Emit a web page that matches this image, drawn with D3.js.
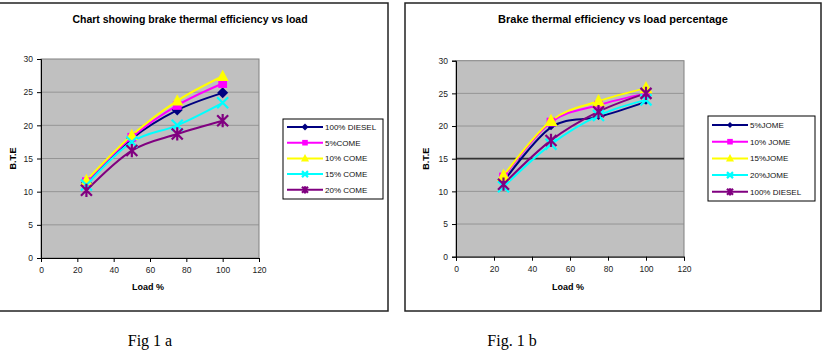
<!DOCTYPE html>
<html>
<head>
<meta charset="utf-8">
<script src="https://cdn.jsdelivr.net/npm/d3@7"></script>
<style>
  body { margin: 0; background: #fff; }
  svg { display: block; }
</style>
</head>
<body>
<div id="chart"></div>
<script>
// shared values
const loads = [25, 50, 75, 100];
const xTicks = [0, 20, 40, 60, 80, 100, 120];
const yTicks = [0, 5, 10, 15, 20, 25, 30];

// Fig 1 a
const namesA = ['100% DIESEL', '5%COME', '10% COME', '15% COME', '20% COME'];
const dieselA = [11.3, 18.0, 22.3, 24.9];
const come5 = [11.5, 18.2, 23.0, 26.3];
const come10 = [11.7, 18.5, 23.7, 27.4];
const come15 = [11.0, 17.5, 20.0, 23.4];
const come20 = [10.2, 16.2, 18.7, 20.7];

// Fig 1 b
const namesB = ['5%JOME', '10% JOME', '15%JOME', '20%JOME', '100% DIESEL'];
const jome5 = [11.5, 19.8, 21.4, 23.7];
const jome10 = [12.2, 20.6, 23.2, 25.0];
const jome15 = [12.4, 20.8, 23.8, 25.8];
const jome20 = [10.7, 17.2, 21.6, 24.0];
const dieselB = [11.1, 17.8, 22.2, 25.0];

const colors = ['#000080', '#ff00ff', '#ffff00', '#00ffff', '#800080'];
const shapes = ['diamond', 'square', 'triangle', 'x', 'star'];

const W = 825, H = 356;
const svg = d3.select('#chart').append('svg')
  .attr('width', W)
  .attr('height', H)
  .style('font-family', 'Liberation Sans, Arial, sans-serif');

function marker(g, shape, color, s) {
  if (shape === 'diamond') {
    g.append('path').attr('d', `M0,${-s}L${s},0L0,${s}L${-s},0Z`).attr('fill', color);
  } else if (shape === 'square') {
    g.append('rect').attr('x', -s * 0.8).attr('y', -s * 0.8)
      .attr('width', s * 1.6).attr('height', s * 1.6).attr('fill', color);
  } else if (shape === 'triangle') {
    g.append('path').attr('d', `M0,${-s * 1.1}L${s},${s * 0.8}L${-s},${s * 0.8}Z`).attr('fill', color);
  } else if (shape === 'x') {
    g.append('path').attr('d', `M${-s},${-s}L${s},${s}M${-s},${s}L${s},${-s}`)
      .attr('stroke', color).attr('stroke-width', 2.2);
  } else {
    g.append('path').attr('d', `M${-s},${-s}L${s},${s}M${-s},${s}L${s},${-s}M0,${-s * 1.2}L0,${s * 1.2}`)
      .attr('stroke', color).attr('stroke-width', 2.2);
  }
}

function drawChart(cfg) {
  const g = svg.append('g');

  // outer frame
  g.append('rect')
    .attr('x', cfg.frame[0]).attr('y', cfg.frame[1])
    .attr('width', cfg.frame[2]).attr('height', cfg.frame[3])
    .attr('fill', '#fff').attr('stroke', '#222').attr('stroke-width', 1.5);

  const x = d3.scaleLinear().domain([0, 120]).range([cfg.plot.x0, cfg.plot.x1]);
  const y = d3.scaleLinear().domain([0, 30]).range([cfg.plot.y0, cfg.plot.y1]);

  // plot area
  g.append('rect')
    .attr('x', x(0)).attr('y', y(30))
    .attr('width', x(120) - x(0)).attr('height', y(0) - y(30))
    .attr('fill', '#c0c0c0').attr('stroke', '#808080').attr('stroke-width', 1);

  // gridlines
  g.selectAll('.grid').data(yTicks.filter(d => d > 0 && d < 30)).join('line')
    .attr('x1', x(0)).attr('x2', x(120))
    .attr('y1', d => y(d)).attr('y2', d => y(d))
    .attr('stroke', d => (cfg.darkLine === d ? '#333' : '#8a8a8a'))
    .attr('stroke-width', d => (cfg.darkLine === d ? 1.8 : 0.8));

  // axes
  const xAxis = g.append('g')
    .attr('transform', `translate(0,${y(0)})`)
    .call(d3.axisBottom(x).tickValues(xTicks).tickSize(4).tickPadding(5));
  const yAxis = g.append('g')
    .attr('transform', `translate(${x(0)},0)`)
    .call(d3.axisLeft(y).tickValues(yTicks).tickSize(4).tickPadding(4));
  [xAxis, yAxis].forEach(a => {
    a.select('.domain').attr('stroke', '#000');
    a.selectAll('.tick line').attr('stroke', '#000');
    a.selectAll('text').attr('font-size', 8.5).attr('fill', '#222')
      .attr('font-family', 'Liberation Sans, Arial, sans-serif');
  });

  // title and axis labels
  g.append('text')
    .attr('x', cfg.titleX).attr('y', 23)
    .attr('text-anchor', 'middle').attr('font-size', cfg.titleSize).attr('font-weight', 'bold')
    .text(cfg.title);
  g.append('text')
    .attr('x', (x(0) + x(120)) / 2 - 2).attr('y', 290)
    .attr('text-anchor', 'middle').attr('font-size', 9).attr('font-weight', 'bold')
    .text('Load %');
  g.append('text')
    .attr('transform', `translate(${cfg.ylabX},${(y(0) + y(30)) / 2}) rotate(-90)`)
    .attr('text-anchor', 'middle').attr('font-size', 9).attr('font-weight', 'bold')
    .text('B.T.E');

  const line = d3.line()
    .x((d, i) => x(loads[i]))
    .y(d => y(d))
    .curve(d3.curveCardinal.tension(0));

  cfg.series.forEach((vals, si) => {
    g.append('path')
      .attr('d', line(vals))
      .attr('fill', 'none')
      .attr('stroke', colors[si])
      .attr('stroke-width', 2);
  });
  cfg.series.forEach((vals, si) => {
    vals.forEach((v, i) => {
      const m = g.append('g').attr('transform', `translate(${x(loads[i])},${y(v)})`);
      marker(m, shapes[si], colors[si], cfg.sizes[si]);
    });
  });

  // legend
  const L = cfg.legend;
  g.append('rect')
    .attr('x', L.x).attr('y', L.y).attr('width', L.w).attr('height', L.h)
    .attr('fill', '#fff').attr('stroke', '#000').attr('stroke-width', 1);
  cfg.names.forEach((n, i) => {
    const yy = L.y + L.first + i * L.step;
    g.append('line')
      .attr('x1', L.x + 4).attr('x2', L.x + 4 + L.len)
      .attr('y1', yy).attr('y2', yy)
      .attr('stroke', colors[i]).attr('stroke-width', 2);
    const m = g.append('g').attr('transform', `translate(${L.x + 4 + L.len / 2},${yy})`);
    marker(m, shapes[i], colors[i], cfg.legendSizes[i]);
    g.append('text')
      .attr('x', L.x + 6 + L.len).attr('y', yy + 3)
      .attr('font-size', 8).attr('fill', '#111')
      .text(n);
  });
}

drawChart({
  frame: [-1, 3, 389, 308],
  plot: { x0: 41, x1: 259, y0: 258, y1: 59 },
  title: 'Chart showing brake thermal efficiency vs load',
  titleX: 190,
  titleSize: 10.5,
  ylabX: 16,
  names: namesA,
  series: [dieselA, come5, come10, come15, come20],
  sizes: [5.5, 5.5, 6, 5.5, 5.5],
  legendSizes: [3.5, 3.5, 4, 3, 3],
  legend: { x: 283, y: 119, w: 100, h: 80, first: 8, step: 15.7, len: 36 }
});

drawChart({
  frame: [405, 3, 416, 308],
  plot: { x0: 456, x1: 684, y0: 256.7, y1: 60.7 },
  title: 'Brake thermal efficiency vs load percentage',
  titleX: 613,
  titleSize: 11,
  ylabX: 429,
  names: namesB,
  series: [jome5, jome10, jome15, jome20, dieselB],
  sizes: [3, 5.5, 6.5, 5.5, 5.5],
  legendSizes: [3, 3.5, 4, 3, 3],
  legend: { x: 708, y: 116, w: 107, h: 85, first: 9, step: 16.7, len: 36 },
  darkLine: 15
});

// figure captions
svg.append('text')
  .attr('x', 150).attr('y', 346)
  .attr('text-anchor', 'middle')
  .attr('font-family', 'Liberation Serif, Times New Roman, serif')
  .attr('font-size', 16)
  .text('Fig 1 a');
svg.append('text')
  .attr('x', 512).attr('y', 346)
  .attr('text-anchor', 'middle')
  .attr('font-family', 'Liberation Serif, Times New Roman, serif')
  .attr('font-size', 16)
  .text('Fig. 1 b');
</script>
</body>
</html>
